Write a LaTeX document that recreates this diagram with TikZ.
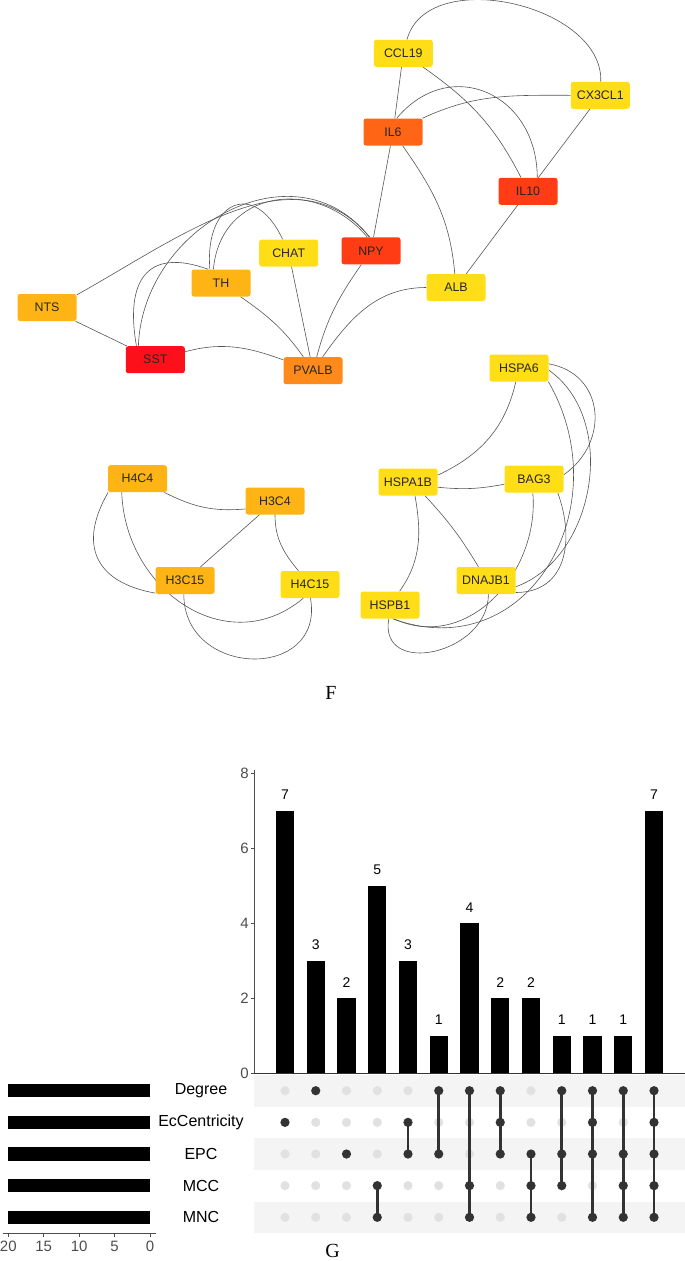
\documentclass[tikz,border=0pt]{standalone}
\usepackage{fontspec}
\setmainfont{Liberation Serif}
\setsansfont{Liberation Sans}
\usetikzlibrary{positioning}
\pgfdeclarelayer{background}
\pgfsetlayers{background,main}
\definecolor{hubyellow}{RGB}{255,222,23}
\definecolor{huborange}{RGB}{253,180,20}
\definecolor{hubamber}{RGB}{255,138,28}
\definecolor{hubflame}{RGB}{255,101,20}
\definecolor{hubred}{RGB}{255,60,20}
\definecolor{hubcrimson}{RGB}{252,17,26}
\definecolor{edgegray}{RGB}{85,85,85}
\definecolor{dotdark}{RGB}{51,51,51}
\definecolor{dotlight}{RGB}{225,225,225}
\definecolor{bandgray}{RGB}{244,244,244}
\definecolor{axisgray}{RGB}{77,77,77}

\begin{document}
\begin{tikzpicture}[
    x=1pt, y=-1pt,   % pixel grid, y grows downwards
    gene/.style = {rounded corners=2.5pt, minimum width=59pt, minimum height=27pt, inner sep=0pt,
                   font=\sffamily\fontsize{12.4}{14}\selectfont, text=black!85},
    link/.style = {draw=edgegray, line width=0.6pt},
    setname/.style = {font=\sffamily\fontsize{16}{18}\selectfont},
    ticklab/.style = {font=\sffamily\fontsize{15}{17}\selectfont, text=axisgray, inner sep=1pt},
    count/.style = {font=\sffamily\fontsize{14}{16}\selectfont, inner sep=0pt},
    panel/.style = {font=\fontsize{20}{22}\selectfont, inner sep=0pt}
  ]
  \useasboundingbox (0,0) rectangle (685,1261);

  % network F, top component
  \node[gene, fill=hubyellow] (CCL19) at (403.3,53.3) {CCL19};
  \node[gene, fill=hubyellow] (CX3CL1) at (600.3,95.3) {CX3CL1};
  \node[gene, fill=hubflame] (IL6) at (393,132) {IL6};
  \node[gene, fill=hubred] (IL10) at (528,191.3) {IL10};
  \node[gene, fill=hubred] (NPY) at (371,250.8) {NPY};
  \node[gene, fill=hubyellow] (CHAT) at (288.7,253) {CHAT};
  \node[gene, fill=huborange] (TH) at (221,283) {TH};
  \node[gene, fill=hubyellow] (ALB) at (456,287.5) {ALB};
  \node[gene, fill=huborange] (NTS) at (47,307.5) {NTS};
  \node[gene, fill=hubcrimson] (SST) at (155.3,359.7) {SST};
  \node[gene, fill=hubamber] (PVALB) at (313,370.7) {PVALB};

  % heat shock component
  \node[gene, fill=hubyellow] (HSPA6) at (519,368) {HSPA6};
  \node[gene, fill=hubyellow] (HSPA1B) at (408,482) {HSPA1B};
  \node[gene, fill=hubyellow] (BAG3) at (534,479) {BAG3};
  \node[gene, fill=hubyellow] (DNAJB1) at (486,580.5) {DNAJB1};
  \node[gene, fill=hubyellow] (HSPB1) at (390,605) {HSPB1};

  % histone component
  \node[gene, fill=huborange] (H4C4) at (137.5,478.7) {H4C4};
  \node[gene, fill=huborange] (H3C4) at (275,501) {H3C4};
  \node[gene, fill=huborange] (H3C15) at (185,580.5) {H3C15};
  \node[gene, fill=hubyellow] (H4C15) at (310,584.5) {H4C15};

  \begin{pgfonlayer}{background}
    \draw[link] (CCL19) to[out=75,in=88] (CX3CL1);
    \draw[link] (CCL19) -- (IL6);
    \draw[link] (CCL19) to[out=-35,in=117] (IL10);
    \draw[link] (IL6) to[out=25,in=180] (CX3CL1);
    \draw[link] (IL6.75) to[out=50,in=90,looseness=1.4] (IL10.56);
    \draw[link] (CX3CL1) -- (IL10);
    \draw[link] (IL6) -- (NPY);
    \draw[link] (IL6) to[out=-55,in=95] (ALB);
    \draw[link] (IL10) -- (ALB);
    \draw[link] (ALB) to[out=180,in=55] (PVALB);
    \draw[link] (NPY) to[out=-125,in=75] (PVALB);
    \draw[link] (CHAT) -- (PVALB);
    \draw[link] (TH) to[out=-35,in=125] (PVALB);
    \draw[link] (SST) to[out=15,in=160] (PVALB);
    \draw[link] (NTS) -- (SST);
    \draw[link] (NTS.23) to[out=29,in=130] (NPY.95);
    \draw[link] (SST.141) to[out=88,in=128,looseness=1.2] (NPY.97);
    \draw[link] (SST.144) to[out=100,in=160,looseness=1.6] (TH.133);
    \draw[link] (TH.129) to[out=95,in=115,looseness=2.2] (CHAT.114);
    \draw[link] (TH.119) to[out=85,in=130,looseness=1.3] (NPY.105);

    \draw[link] (HSPA6) to[out=-103,in=25] (HSPA1B.13);
    \draw[link] (HSPA1B.-10) to[bend right=8] (BAG3.190);
    \draw[link] (HSPA1B.-63) to[out=-80,in=55] (HSPB1);
    \draw[link] (HSPA1B.-39) to[bend left=6] (DNAJB1.119);
    \draw[link] (HSPA6.8) to[out=-10,in=35,looseness=1.3] (BAG3.8);
    \draw[link] (HSPA6.-4) to[out=-35,in=20] (DNAJB1.-12);
    \draw[link] (HSPA6.-25) to[out=-60,in=-20,looseness=1.3] (HSPB1.-80);
    \draw[link] (BAG3.-95) to[out=-85,in=-25,looseness=1.1] (HSPB1.-75);
    \draw[link] (BAG3.-30) to[out=-70,in=0,looseness=1.2] (DNAJB1.-22);
    \draw[link] (DNAJB1.-80) to[out=-90,in=-100,looseness=1.5] (HSPB1.-95);

    \draw[link] (H4C4) to[out=-27,in=185] (H3C4.195);
    \draw[link] (H3C4) -- (H3C15);
    \draw[link] (H3C4) to[out=-90,in=130] (H4C15);
    \draw[link] (H4C4.-155) to[out=-120,in=170,looseness=1.4] (H3C15.-157);
    \draw[link] (H4C4.-139) to[out=-88,in=-140,looseness=1.2] (H4C15.-116);
    \draw[link] (H3C15.-95) to[out=-90,in=-80,looseness=1.7] (H4C15.-88);
  \end{pgfonlayer}

  \node[panel] (F) at (331,692.7) {F};

  % upset plot G: intersection sizes
  \draw[axisgray, line width=0.8pt] (254.3,770) -- (254.3,1073.3);
  \foreach \t in {0,2,4,6,8} {
    \draw[axisgray, line width=0.8pt] (251,{1073.3-37.5*\t}) -- (254.3,{1073.3-37.5*\t});
    \node[ticklab, anchor=east] (yt\t) at (250,{1073.3-37.5*\t}) {\t};
  }
  \foreach \v [count=\i] in {7,3,2,5,3,1,4,2,2,1,1,1,7} {
    \pgfmathsetmacro\cx{285+(\i-1)*30.75}
    \fill (\cx-9.2,1073.3) rectangle (\cx+9.2,{1073.3-37.5*\v});
    \node[count] (c\i) at (\cx,{1073.3-37.5*\v-16}) {\v};
  }

  % matrix rows
  \foreach \r in {1,3,5}
    \fill[bandgray] (254.3,{1090.7+31.65*(\r-1)-15.8}) rectangle (685,{1090.7+31.65*(\r-1)+15.8});
  \draw[dotdark, line width=1pt] (254.3,1073.3) -- (685,1073.3);
  \foreach \c in {1,...,13}
    \foreach \r in {1,...,5}
      \fill[dotlight] ({285+(\c-1)*30.75},{1090.7+31.65*(\r-1)}) circle (4.6);
  \foreach \c/\lo/\hi/\members in {1/2/2/{2}, 2/1/1/{1}, 3/3/3/{3}, 4/4/5/{4,5}, 5/2/3/{2,3},
      6/1/3/{1,3}, 7/1/5/{1,4,5}, 8/1/3/{1,2,3}, 9/3/5/{3,4,5}, 10/1/4/{1,3,4},
      11/1/5/{1,2,3,5}, 12/1/5/{1,3,4,5}, 13/1/5/{1,2,3,4,5}} {
    \draw[dotdark, line width=2.6pt] ({285+(\c-1)*30.75},{1090.7+31.65*(\lo-1)})
      -- ({285+(\c-1)*30.75},{1090.7+31.65*(\hi-1)});
    \foreach \r in \members
      \fill[dotdark] ({285+(\c-1)*30.75},{1090.7+31.65*(\r-1)}) circle (4.6);
  }

  % set sizes
  \foreach \s [count=\r] in {Degree,EcCentricity,EPC,MCC,MNC} {
    \node[setname] (s\r) at (201,{1090.7+31.65*(\r-1)}) {\s};
    \fill (8.3,{1090.7+31.65*(\r-1)-6.7}) rectangle (150,{1090.7+31.65*(\r-1)+6.7});
  }
  \draw[axisgray, line width=0.8pt] (2.7,1233.3) -- (155.7,1233.3);
  \foreach \t [count=\k] in {20,15,10,5,0} {
    \draw[axisgray, line width=0.8pt] ({8.3+(\k-1)*35.43},1233.3) -- ({8.3+(\k-1)*35.43},1236.5);
    \node[ticklab] (xt\k) at ({8.3+(\k-1)*35.43},1246) {\t};
  }

  \node[panel, anchor=base] (G) at (332.5,1257) {G};
\end{tikzpicture}
\end{document}
